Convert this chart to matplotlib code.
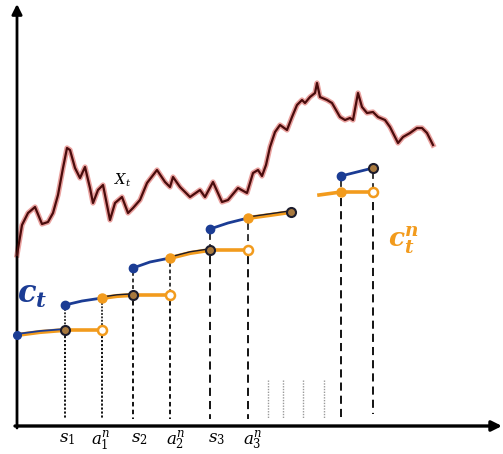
import matplotlib
matplotlib.use("Agg")
import matplotlib.pyplot as plt

plt.rcParams["mathtext.fontset"] = "custom"
plt.rcParams["mathtext.rm"] = "DejaVu Serif"
plt.rcParams["mathtext.it"] = "DejaVu Serif:italic"
plt.rcParams["mathtext.bf"] = "DejaVu Serif:italic:bold"

# --- state process X_t (sketch coordinates, y grows downward) ---
x_path = [17, 22, 28, 35, 42, 48, 53, 58, 63, 67, 70, 75, 80, 85, 90, 93, 98, 103,
          110, 115, 122, 128, 133, 140, 147, 157, 165, 170, 173, 180, 190, 200, 205,
          213, 222, 228, 238, 247, 253, 258, 262, 266, 270, 275, 280, 287, 292, 297,
          302, 305, 310, 315, 317, 320, 327, 332, 340, 345, 350, 353, 358, 362, 367,
          373, 378, 385, 390, 398, 403, 410, 417, 422, 427, 433]
y_path = [255, 225, 213, 207, 224, 222, 213, 195, 168, 148, 150, 168, 178, 167, 188,
          203, 190, 185, 220, 203, 197, 213, 208, 200, 183, 170, 182, 187, 177, 187,
          197, 190, 197, 182, 202, 200, 188, 193, 173, 170, 176, 165, 147, 132, 125,
          130, 117, 105, 100, 103, 97, 93, 83, 97, 100, 103, 117, 120, 118, 120, 93,
          107, 113, 112, 117, 120, 127, 143, 137, 133, 128, 128, 133, 145]

# --- switching times s_i and notification times a_i^n ---
s_times = [65, 133, 210, 341]
a_times = [102, 170, 248, 373]
flat_level = [330, 295, 250, 192]      # c_t^n held constant on [s_i, a_i]
jump_level = [305, 268, 229, 176]      # c_t right after the switch at s_i
mid_level = [298, 258, 218]            # c_t at a_i
mid_x = [82, 150, 228]                 # interior points of c_t on [s_i, a_i]
mid_y = [301, 262, 223]
tail_x = [117, 190, 270]               # interior points of c_t after a_i
tail_y = [296, 253, 215]
end_x = [133, 210, 291]
end_y = [295, 250, 212]

init_x = [17, 40, 65]
init_y = [335, 332, 330]
lead_x = [319, 341]
lead_y = [195, 192]
last_blue_x = [341, 373]
last_blue_y = [176, 168]

faint_x = [268, 283, 303, 324]

tick_labels = [r"$s_1$", r"$a_1^n$", r"$s_2$", r"$a_2^n$", r"$s_3$", r"$a_3^n$"]
tick_x = [67, 101, 139, 176, 217, 253]

BLUE = "#1b3c94"
ORANGE = "#f29b1d"
DARK = "#1c1c2c"
NODE_FILL = "#a8793e"

fig = plt.figure(figsize=(5.03, 4.54), dpi=100)
ax = fig.add_axes([0, 0, 1, 1])
ax.set_xlim(0, 503)
ax.set_ylim(454, 0)
ax.axis("off")

# axes with arrow heads
ax.annotate("", xy=(17, 4), xytext=(17, 428),
            arrowprops=dict(arrowstyle="-|>", lw=2.0, color="black",
                            mutation_scale=15, shrinkA=0, shrinkB=0))
ax.annotate("", xy=(502, 426), xytext=(15, 426),
            arrowprops=dict(arrowstyle="-|>", lw=2.4, color="black",
                            mutation_scale=15, shrinkA=0, shrinkB=0))

# X_t with a soft red halo
ax.plot(x_path, y_path, color="#d0302a", lw=3.8, alpha=0.45, solid_joinstyle="round", zorder=2)
ax.plot(x_path, y_path, color="#4a0c0c", lw=1.6, solid_joinstyle="round", zorder=3)
ax.text(114, 185, r"$X_t$", fontsize=10.5, color="black", zorder=4)

bottom = 419
dash_styles = [(0, (1.2, 1.0)), (0, (2.5, 1.8)), (0, (4.5, 2.8)), (0, (4.5, 2.8))]

def vline(x, y0, y1, ls, color="black", lw=1.3):
    ax.plot([x, x], [y0, y1], color=color, lw=lw, linestyle=ls, zorder=1)

# vertical guides
for i in range(4):
    ls = dash_styles[i]
    s, a = s_times[i], a_times[i]
    vline(s, jump_level[i] + 4, flat_level[i] - 5, ls, lw=1.1)
    vline(s, flat_level[i] + 6, bottom, ls)
    if i < 3:
        vline(a, mid_level[i] + 5, flat_level[i] - 5, ls, lw=1.1)
        vline(a, flat_level[i] + 6, bottom, ls)
    else:
        vline(a, last_blue_y[1] + 4, flat_level[i] - 5, ls, lw=1.1)
        vline(a, flat_level[i] + 10, bottom - 5, ls)

for fx in faint_x:
    vline(fx, 380, 418, (0, (1, 1)), color="#9a9a9a", lw=1.0)

# initial piece of c_t / c_t^n
ax.plot(init_x, init_y, color=ORANGE, lw=3.0, zorder=4, solid_capstyle="round")
ax.plot(init_x, [v - 1 for v in init_y], color=BLUE, lw=1.3, zorder=5)
ax.plot([init_x[0]], [init_y[0]], "o", color=BLUE, ms=5.5, zorder=6)

for i in range(3):
    s, a = s_times[i], a_times[i]
    # c_t^n held flat
    ax.plot([s, a], [flat_level[i], flat_level[i]], color=ORANGE, lw=2.6, zorder=4)
    # c_t between s_i and a_i
    ax.plot([s, mid_x[i], a], [jump_level[i], mid_y[i], mid_level[i]],
            color=BLUE, lw=2.0, zorder=4)
    # c_t and c_t^n together after a_i
    ax.plot([a, tail_x[i], end_x[i]], [mid_level[i], tail_y[i], end_y[i]],
            color=ORANGE, lw=3.0, zorder=4)
    ax.plot([a, tail_x[i], end_x[i]], [mid_level[i] - 1, tail_y[i] - 1.2, end_y[i] - 1.2],
            color=DARK, lw=1.0, zorder=5)
    ax.plot([s], [jump_level[i]], "o", color=BLUE, ms=6, zorder=6)
    ax.plot([a], [mid_level[i]], "o", color=ORANGE, ms=6.5, zorder=6)
    ax.plot([a], [flat_level[i]], "o", mfc="white", mec=ORANGE, mew=1.8, ms=6.5, zorder=6)
    ax.plot([s], [flat_level[i]], "o", mfc=NODE_FILL, mec=DARK, mew=1.5, ms=6.5, zorder=6)

ax.plot([end_x[2]], [end_y[2]], "o", mfc=NODE_FILL, mec=DARK, mew=1.5, ms=6.5, zorder=6)

# last switching window
ax.plot(lead_x, lead_y, color=ORANGE, lw=2.6, zorder=4)
ax.plot([s_times[3], a_times[3]], [flat_level[3], flat_level[3]], color=ORANGE, lw=2.6, zorder=4)
ax.plot(last_blue_x, last_blue_y, color=BLUE, lw=2.0, zorder=4)
ax.plot([last_blue_x[0]], [last_blue_y[0]], "o", color=BLUE, ms=6, zorder=6)
ax.plot([last_blue_x[1]], [last_blue_y[1]], "o", mfc=NODE_FILL, mec=DARK, mew=1.5, ms=6.5, zorder=6)
ax.plot([s_times[3]], [flat_level[3]], "o", color=ORANGE, ms=6.5, zorder=6)
ax.plot([a_times[3]], [flat_level[3]], "o", mfc="white", mec=ORANGE, mew=1.8, ms=6.5, zorder=6)

# curve labels
ax.text(17, 303, r"$\mathbf{c}_\mathbf{t}$", fontsize=22, color=BLUE, zorder=7)
ax.text(388, 247, r"$\mathbf{c}_\mathbf{t}^\mathbf{n}$", fontsize=19, color=ORANGE, zorder=7)

# time labels under the axis
for tx, lab in zip(tick_x, tick_labels):
    ax.text(tx, 429, lab, fontsize=12, ha="center", va="top", color="black")

fig.savefig("out.png", dpi=100)
